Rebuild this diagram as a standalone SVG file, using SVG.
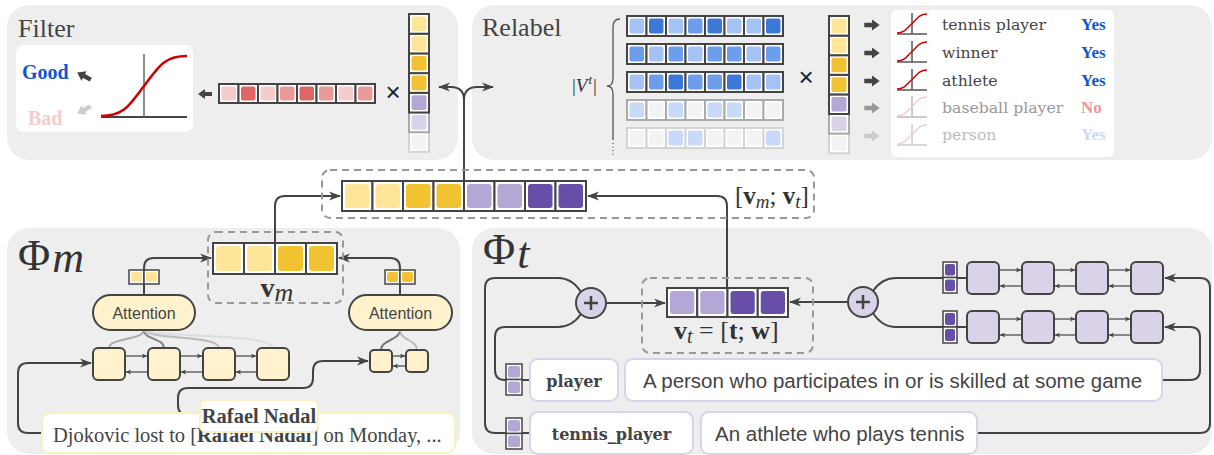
<svg xmlns="http://www.w3.org/2000/svg" width="1214" height="455" viewBox="0 0 1214 455">
<defs>
<style>
.panel{fill:#eeeeee}
.c{fill:#fff;stroke:#444;stroke-width:2}
.cg{fill:#fff;stroke:#aaa;stroke-width:2}
.cl{fill:#fff;stroke:#d4d4d4;stroke-width:2}
.cs{fill:#fff;stroke:#444;stroke-width:1.5}
.y1{fill:#ffe599}.y2{fill:#f1c232}.l1{fill:#b4a7d6}.l2{fill:#d9d2e9}.p{fill:#674ea7}.e{fill:#f3f3f3}
.r1{fill:#f4cccc}.r2{fill:#ea9999}.r3{fill:#e06666}
.b1{fill:#c9daf8}.b2{fill:#a4c2f4}.b3{fill:#6d9eeb}.b4{fill:#3c78d8}
.ln{fill:none;stroke:#444;stroke-width:2}
.sl{fill:none;stroke:#444;stroke-width:1.2}
.dash{fill:none;stroke:#999;stroke-width:2;stroke-dasharray:7 5}
.box{fill:#fff2cc;stroke:#444;stroke-width:2}
.pbox{fill:#d9d2e9;stroke:#444;stroke-width:2}
.title{font-family:"Liberation Serif",serif;font-size:26px;fill:#444}
.math{font-family:"Liberation Serif",serif;fill:#333}
.slab{font-family:"DejaVu Serif",serif}
.sans{font-family:"Liberation Sans",Arial,sans-serif;fill:#444}
.lbl{fill:#fff;stroke:#d9d2e9;stroke-width:2}
</style>
<marker id="ah" viewBox="0 0 12 10" refX="11" refY="5" markerWidth="12" markerHeight="10" markerUnits="userSpaceOnUse" orient="auto"><path d="M0,0.5 L12,5 L0,9.5 L3.5,5 Z" fill="#444"/></marker>
<marker id="sa" viewBox="0 0 6 6" refX="6" refY="3" markerWidth="6" markerHeight="5" markerUnits="userSpaceOnUse" orient="auto"><path d="M0,0 L6,3 L0,6 L1.5,3 Z" fill="#444"/></marker>
<path id="ta" d="M-7,-2 h7 v-3 l7,5 l-7,5 v-3 h-7 z"/>
</defs>

<g id="panels">
<rect class="panel" x="7" y="5" width="451" height="155" rx="22"/>
<rect class="panel" x="472" y="5" width="740" height="155" rx="22"/>
<rect class="panel" x="7" y="228" width="453" height="226" rx="22"/>
<rect class="panel" x="472" y="228" width="740" height="226" rx="22"/>
</g>

<g id="connectors">
<path class="ln" d="M464,181 V100 Q464,87 451,87 H439" marker-end="url(#ah)"/>
<path class="ln" d="M464,100 Q464,87 477,87 H493" marker-end="url(#ah)"/>
<path class="ln" d="M275,243 V206 Q275,196 285,196 H340" marker-end="url(#ah)"/>
<path class="ln" d="M727,288 V206 Q727,196 717,196 H588" marker-end="url(#ah)"/>
<path class="ln" d="M144,295 V268 Q144,258 154,258 H211" marker-end="url(#ah)"/>
<path class="ln" d="M400,295 V268 Q400,258 390,258 H339" marker-end="url(#ah)"/>
<path fill="none" stroke="#aaa" stroke-width="2" d="M144,330 C144,340 109,338 109,348"/>
<path fill="none" stroke="#888" stroke-width="2" d="M144,330 C144,340 164,338 164,348"/>
<path fill="none" stroke="#bbb" stroke-width="2" d="M144,330 C150,340 219,335 219,348"/>
<path fill="none" stroke="#ddd" stroke-width="2" d="M144,330 C156,338 273,333 273,348"/>
<path fill="none" stroke="#777" stroke-width="2" d="M400,330 C400,340 381,340 381,350"/>
<path fill="none" stroke="#bbb" stroke-width="2" d="M400,330 C400,340 417,340 417,350"/>
<path class="ln" d="M42,433 H28 Q18,433 18,423 V373 Q18,363 28,363 H91" marker-end="url(#ah)"/>
<path class="ln" d="M200,415 H188 Q178,415 178,405 V398 Q178,388 188,388 H303 Q313,388 313,378 V371 Q313,361 323,361 H368" marker-end="url(#ah)"/>
<path class="sl" d="M125,356 H147" marker-end="url(#sa)"/>
<path class="sl" d="M180,356 H202" marker-end="url(#sa)"/>
<path class="sl" d="M235,356 H256" marker-end="url(#sa)"/>
<path class="sl" d="M148,372 H126" marker-end="url(#sa)"/>
<path class="sl" d="M203,372 H181" marker-end="url(#sa)"/>
<path class="sl" d="M257,372 H236" marker-end="url(#sa)"/>
<path class="sl" d="M392,356 H405" marker-end="url(#sa)"/>
<path class="sl" d="M406,366 H393" marker-end="url(#sa)"/>
<path class="ln" d="M606,303 H665" marker-end="url(#ah)"/>
<path class="ln" d="M848,302 H790" marker-end="url(#ah)"/>
<path class="ln" d="M581,292 Q572,278 558,278 H495 Q485,278 485,288 V423 Q485,433 495,433 H530"/>
<path class="ln" d="M581,314 Q572,327 558,327 H505 Q495,327 495,337 V370 Q495,380 505,380 H530"/>
<path class="ln" d="M873,291 Q882,278 896,278 H967"/>
<path class="ln" d="M873,313 Q882,327 896,327 H967"/>
<path class="ln" d="M1162,380 H1190 Q1200,380 1200,370 V337 Q1200,327 1190,327 H1165" marker-end="url(#ah)"/>
<path class="ln" d="M977,433 H1200 Q1210,433 1210,423 V288 Q1210,278 1200,278 H1165" marker-end="url(#ah)"/>
<path class="sl" d="M999,270 H1021" marker-end="url(#sa)"/>
<path class="sl" d="M1054,270 H1075" marker-end="url(#sa)"/>
<path class="sl" d="M1108,270 H1130" marker-end="url(#sa)"/>
<path class="sl" d="M1022,286 H1000" marker-end="url(#sa)"/>
<path class="sl" d="M1076,286 H1055" marker-end="url(#sa)"/>
<path class="sl" d="M1131,286 H1109" marker-end="url(#sa)"/>
<path class="sl" d="M999,319 H1021" marker-end="url(#sa)"/>
<path class="sl" d="M1054,319 H1075" marker-end="url(#sa)"/>
<path class="sl" d="M1108,319 H1130" marker-end="url(#sa)"/>
<path class="sl" d="M1022,335 H1000" marker-end="url(#sa)"/>
<path class="sl" d="M1076,335 H1055" marker-end="url(#sa)"/>
<path class="sl" d="M1131,335 H1109" marker-end="url(#sa)"/>
</g>

<g id="filter">
<text class="title" x="18" y="37">Filter</text>
<rect x="16" y="45" width="177" height="87" rx="8" fill="#fff"/>
<text x="22" y="79" font-family="Liberation Serif,serif" font-weight="bold" font-size="20" fill="#1155cc">Good</text>
<text x="28" y="125" font-family="Liberation Serif,serif" font-weight="bold" font-size="20" fill="#f4cccc">Bad</text>
<use href="#ta" transform="translate(84,76) rotate(-152) scale(1.1)" fill="#444"/>
<use href="#ta" transform="translate(84,110) rotate(152) scale(1.1)" fill="#ccc"/>
<path d="M101,117 H187" stroke="#444" stroke-width="2"/>
<path d="M144,54 V117" stroke="#666" stroke-width="1.5"/>
<path d="M101,116 C125,116 130,104 144,86 C158,68 163,56 187,56" fill="none" stroke="#cc0000" stroke-width="2.5"/>
<use href="#ta" transform="translate(205,94) rotate(180)" fill="#444"/>
<g id="filter-vec">
<rect class="c" x="219" y="84" width="19.5" height="19"/><rect class="r1" x="221.5" y="86.5" width="14.5" height="14" rx="2"/>
<rect class="c" x="238.5" y="84" width="19.5" height="19"/><rect class="r3" x="241" y="86.5" width="14.5" height="14" rx="2"/>
<rect class="c" x="258" y="84" width="19.5" height="19"/><rect class="r1" x="260.5" y="86.5" width="14.5" height="14" rx="2"/>
<rect class="c" x="277.5" y="84" width="19.5" height="19"/><rect class="r2" x="280" y="86.5" width="14.5" height="14" rx="2"/>
<rect class="c" x="297" y="84" width="19.5" height="19"/><rect class="r3" x="299.5" y="86.5" width="14.5" height="14" rx="2"/>
<rect class="c" x="316.5" y="84" width="19.5" height="19"/><rect class="r2" x="319" y="86.5" width="14.5" height="14" rx="2"/>
<rect class="c" x="336" y="84" width="19.5" height="19"/><rect class="r1" x="338.5" y="86.5" width="14.5" height="14" rx="2"/>
<rect class="c" x="355.5" y="84" width="19.5" height="19"/><rect class="r2" x="358" y="86.5" width="14.5" height="14" rx="2"/>
</g>
<text x="393" y="101" font-family="Liberation Sans,sans-serif" font-size="26" fill="#222" text-anchor="middle">×</text>
<g id="filter-mention">
<rect class="cl" x="409" y="132.2" width="20" height="19.7"/><rect class="e" x="411.5" y="134.7" width="15" height="14.7" rx="2"/>
<rect class="cg" x="409" y="112.5" width="20" height="19.7"/><rect class="l2" x="411.5" y="115" width="15" height="14.7" rx="2"/>
<rect class="c" x="409" y="92.8" width="20" height="19.7"/><rect class="l1" x="411.5" y="95.3" width="15" height="14.7" rx="2"/>
<rect class="c" x="409" y="73.1" width="20" height="19.7"/><rect class="y2" x="411.5" y="75.6" width="15" height="14.7" rx="2"/>
<rect class="c" x="409" y="53.4" width="20" height="19.7"/><rect class="y2" x="411.5" y="55.9" width="15" height="14.7" rx="2"/>
<rect class="c" x="409" y="33.7" width="20" height="19.7"/><rect class="y1" x="411.5" y="36.2" width="15" height="14.7" rx="2"/>
<rect class="c" x="409" y="14" width="20" height="19.7"/><rect class="y1" x="411.5" y="16.5" width="15" height="14.7" rx="2"/>
</g>
</g>

<g id="relabel">
<text class="title" x="482" y="36">Relabel</text>
<text class="math" x="572" y="92" font-size="19" fill="#555">|<tspan font-style="italic">V</tspan><tspan font-style="italic" font-size="13" dx="1" dy="-8">t</tspan><tspan dx="1" dy="8">|</tspan></text>
<path d="M620,19 Q613,19 613,27 V78 Q613,86 607,86 Q613,86 613,94 V140" fill="none" stroke="#555" stroke-width="1.3"/>
<path d="M613,143 V156" fill="none" stroke="#555" stroke-width="1.3" stroke-dasharray="1 2.5"/>
<g id="type-matrix">
<rect class="c" x="627" y="16" width="19.5" height="20"/><rect class="b2" x="629.5" y="18.5" width="14.5" height="15" rx="2"/>
<rect class="c" x="646.5" y="16" width="19.5" height="20"/><rect class="b4" x="649" y="18.5" width="14.5" height="15" rx="2"/>
<rect class="c" x="666" y="16" width="19.5" height="20"/><rect class="b2" x="668.5" y="18.5" width="14.5" height="15" rx="2"/>
<rect class="c" x="685.5" y="16" width="19.5" height="20"/><rect class="b3" x="688" y="18.5" width="14.5" height="15" rx="2"/>
<rect class="c" x="705" y="16" width="19.5" height="20"/><rect class="b4" x="707.5" y="18.5" width="14.5" height="15" rx="2"/>
<rect class="c" x="724.5" y="16" width="19.5" height="20"/><rect class="b2" x="727" y="18.5" width="14.5" height="15" rx="2"/>
<rect class="c" x="744" y="16" width="19.5" height="20"/><rect class="b2" x="746.5" y="18.5" width="14.5" height="15" rx="2"/>
<rect class="c" x="763.5" y="16" width="19.5" height="20"/><rect class="b4" x="766" y="18.5" width="14.5" height="15" rx="2"/>

<rect class="c" x="627" y="44" width="19.5" height="20"/><rect class="b3" x="629.5" y="46.5" width="14.5" height="15" rx="2"/>
<rect class="c" x="646.5" y="44" width="19.5" height="20"/><rect class="b2" x="649" y="46.5" width="14.5" height="15" rx="2"/>
<rect class="c" x="666" y="44" width="19.5" height="20"/><rect class="b3" x="668.5" y="46.5" width="14.5" height="15" rx="2"/>
<rect class="c" x="685.5" y="44" width="19.5" height="20"/><rect class="b2" x="688" y="46.5" width="14.5" height="15" rx="2"/>
<rect class="c" x="705" y="44" width="19.5" height="20"/><rect class="b3" x="707.5" y="46.5" width="14.5" height="15" rx="2"/>
<rect class="c" x="724.5" y="44" width="19.5" height="20"/><rect class="b3" x="727" y="46.5" width="14.5" height="15" rx="2"/>
<rect class="c" x="744" y="44" width="19.5" height="20"/><rect class="b2" x="746.5" y="46.5" width="14.5" height="15" rx="2"/>
<rect class="c" x="763.5" y="44" width="19.5" height="20"/><rect class="b3" x="766" y="46.5" width="14.5" height="15" rx="2"/>

<rect class="c" x="627" y="72" width="19.5" height="20"/><rect class="b2" x="629.5" y="74.5" width="14.5" height="15" rx="2"/>
<rect class="c" x="646.5" y="72" width="19.5" height="20"/><rect class="b3" x="649" y="74.5" width="14.5" height="15" rx="2"/>
<rect class="c" x="666" y="72" width="19.5" height="20"/><rect class="b4" x="668.5" y="74.5" width="14.5" height="15" rx="2"/>
<rect class="c" x="685.5" y="72" width="19.5" height="20"/><rect class="b3" x="688" y="74.5" width="14.5" height="15" rx="2"/>
<rect class="c" x="705" y="72" width="19.5" height="20"/><rect class="b3" x="707.5" y="74.5" width="14.5" height="15" rx="2"/>
<rect class="c" x="724.5" y="72" width="19.5" height="20"/><rect class="b4" x="727" y="74.5" width="14.5" height="15" rx="2"/>
<rect class="c" x="744" y="72" width="19.5" height="20"/><rect class="b2" x="746.5" y="74.5" width="14.5" height="15" rx="2"/>
<rect class="c" x="763.5" y="72" width="19.5" height="20"/><rect class="b2" x="766" y="74.5" width="14.5" height="15" rx="2"/>

<rect class="cg" x="627" y="100" width="19.5" height="20"/><rect class="b1" x="629.5" y="102.5" width="14.5" height="15" rx="2"/>
<rect class="cg" x="646.5" y="100" width="19.5" height="20"/><rect class="e" x="649" y="102.5" width="14.5" height="15" rx="2"/>
<rect class="cg" x="666" y="100" width="19.5" height="20"/><rect class="b1" x="668.5" y="102.5" width="14.5" height="15" rx="2"/>
<rect class="cg" x="685.5" y="100" width="19.5" height="20"/><rect class="e" x="688" y="102.5" width="14.5" height="15" rx="2"/>
<rect class="cg" x="705" y="100" width="19.5" height="20"/><rect class="b1" x="707.5" y="102.5" width="14.5" height="15" rx="2"/>
<rect class="cg" x="724.5" y="100" width="19.5" height="20"/><rect class="b1" x="727" y="102.5" width="14.5" height="15" rx="2"/>
<rect class="cg" x="744" y="100" width="19.5" height="20"/><rect class="e" x="746.5" y="102.5" width="14.5" height="15" rx="2"/>
<rect class="cg" x="763.5" y="100" width="19.5" height="20"/><rect class="e" x="766" y="102.5" width="14.5" height="15" rx="2"/>

<rect class="cl" x="627" y="128" width="19.5" height="20"/><rect class="e" x="629.5" y="130.5" width="14.5" height="15" rx="2"/>
<rect class="cl" x="646.5" y="128" width="19.5" height="20"/><rect class="e" x="649" y="130.5" width="14.5" height="15" rx="2"/>
<rect class="cl" x="666" y="128" width="19.5" height="20"/><rect class="b1" x="668.5" y="130.5" width="14.5" height="15" rx="2"/>
<rect class="cl" x="685.5" y="128" width="19.5" height="20"/><rect class="b1" x="688" y="130.5" width="14.5" height="15" rx="2"/>
<rect class="cl" x="705" y="128" width="19.5" height="20"/><rect class="e" x="707.5" y="130.5" width="14.5" height="15" rx="2"/>
<rect class="cl" x="724.5" y="128" width="19.5" height="20"/><rect class="e" x="727" y="130.5" width="14.5" height="15" rx="2"/>
<rect class="cl" x="744" y="128" width="19.5" height="20"/><rect class="e" x="746.5" y="130.5" width="14.5" height="15" rx="2"/>
<rect class="cl" x="763.5" y="128" width="19.5" height="20"/><rect class="b1" x="766" y="130.5" width="14.5" height="15" rx="2"/>
</g>
<text x="806" y="86" font-family="Liberation Sans,sans-serif" font-size="26" fill="#222" text-anchor="middle">×</text>
<g id="relabel-mention">
<rect class="cl" x="829" y="133.6" width="20" height="19.6"/><rect class="e" x="831.5" y="136.1" width="15" height="14.6" rx="2"/>
<rect class="cg" x="829" y="114" width="20" height="19.6"/><rect class="l2" x="831.5" y="116.5" width="15" height="14.6" rx="2"/>
<rect class="c" x="829" y="94.4" width="20" height="19.6"/><rect class="l1" x="831.5" y="96.9" width="15" height="14.6" rx="2"/>
<rect class="c" x="829" y="74.8" width="20" height="19.6"/><rect class="y2" x="831.5" y="77.3" width="15" height="14.6" rx="2"/>
<rect class="c" x="829" y="55.2" width="20" height="19.6"/><rect class="y2" x="831.5" y="57.7" width="15" height="14.6" rx="2"/>
<rect class="c" x="829" y="35.6" width="20" height="19.6"/><rect class="y1" x="831.5" y="38.1" width="15" height="14.6" rx="2"/>
<rect class="c" x="829" y="16" width="20" height="19.6"/><rect class="y1" x="831.5" y="18.5" width="15" height="14.6" rx="2"/>
</g>
<use href="#ta" transform="translate(872,25) scale(1.1)" fill="#444"/>
<use href="#ta" transform="translate(872,53) scale(1.1)" fill="#444"/>
<use href="#ta" transform="translate(872,81) scale(1.1)" fill="#444"/>
<use href="#ta" transform="translate(872,108) scale(1.1)" fill="#999"/>
<use href="#ta" transform="translate(872,136) scale(1.1)" fill="#ccc"/>
<rect x="891" y="10" width="223" height="147" rx="6" fill="#fff"/>
<g fill="none" stroke-width="1.5">
<path d="M897,34 H927 M912,13 V34" stroke="#555"/>
<path d="M897,33 C905,33 907,28 912,23.5 C917,19 919,14 927,14" stroke="#cc0000"/>
<path d="M897,62 H927 M912,41 V62" stroke="#555"/>
<path d="M897,61 C905,61 907,56 912,51.5 C917,47 919,42 927,42" stroke="#cc0000"/>
<path d="M897,90 H927 M912,69 V90" stroke="#555"/>
<path d="M897,89 C905,89 907,84 912,79.5 C917,75 919,70 927,70" stroke="#cc0000"/>
<path d="M897,117 H927 M912,96 V117" stroke="#bbb"/>
<path d="M897,116 C905,116 907,111 912,106.5 C917,102 919,97 927,97" stroke="#f4cccc"/>
<path d="M897,145 H927 M912,124 V145" stroke="#ccc"/>
<path d="M897,144 C905,144 907,139 912,134.5 C917,130 919,125 927,125" stroke="#f4cccc"/>
</g>
<g class="slab" font-size="15.7">
<text x="942" y="30" fill="#444">tennis player</text>
<text x="942" y="58" fill="#444">winner</text>
<text x="942" y="86" fill="#444">athlete</text>
<text x="942" y="113" fill="#999">baseball player</text>
<text x="942" y="140" fill="#bbb">person</text>
</g>
<g font-family="Liberation Serif,serif" font-weight="bold" font-size="17">
<text x="1081" y="30" fill="#1155cc">Yes</text>
<text x="1081" y="58" fill="#1155cc">Yes</text>
<text x="1081" y="86" fill="#1155cc">Yes</text>
<text x="1081" y="113" fill="#ea9999">No</text>
<text x="1081" y="140" fill="#c9daf8">Yes</text>
</g>
</g>

<g id="concat">
<rect class="dash" x="322" y="170" width="492" height="48" rx="8"/>
<rect class="c" x="342" y="181" width="30.5" height="30"/><rect class="y1" x="345" y="184" width="24.5" height="24" rx="3"/>
<rect class="c" x="372.5" y="181" width="30.5" height="30"/><rect class="y1" x="375.5" y="184" width="24.5" height="24" rx="3"/>
<rect class="c" x="403" y="181" width="30.5" height="30"/><rect class="y2" x="406" y="184" width="24.5" height="24" rx="3"/>
<rect class="c" x="433.5" y="181" width="30.5" height="30"/><rect class="y2" x="436.5" y="184" width="24.5" height="24" rx="3"/>
<rect class="c" x="464" y="181" width="30.5" height="30"/><rect class="l1" x="467" y="184" width="24.5" height="24" rx="3"/>
<rect class="c" x="494.5" y="181" width="30.5" height="30"/><rect class="l1" x="497.5" y="184" width="24.5" height="24" rx="3"/>
<rect class="c" x="525" y="181" width="30.5" height="30"/><rect class="p" x="528" y="184" width="24.5" height="24" rx="3"/>
<rect class="c" x="555.5" y="181" width="30.5" height="30"/><rect class="p" x="558.5" y="184" width="24.5" height="24" rx="3"/>
<text class="math" x="735" y="204" font-size="25">[<tspan font-weight="bold">v</tspan><tspan font-style="italic" font-size="19" dy="4">m</tspan><tspan dy="-4">; </tspan><tspan font-weight="bold">v</tspan><tspan font-style="italic" font-size="19" dy="4">t</tspan><tspan dy="-4">]</tspan></text>
</g>

<g id="phi-m">
<text class="math" x="18" y="270" font-size="44" fill="#333">Φ<tspan font-style="italic" dx="2" dy="2">m</tspan></text>
<rect class="dash" x="208" y="232" width="135" height="71" rx="8"/>
<rect class="c" x="213" y="243" width="31" height="31"/><rect class="y1" x="216" y="246" width="25" height="25" rx="3"/>
<rect class="c" x="244" y="243" width="31" height="31"/><rect class="y1" x="247" y="246" width="25" height="25" rx="3"/>
<rect class="c" x="275" y="243" width="31" height="31"/><rect class="y2" x="278" y="246" width="25" height="25" rx="3"/>
<rect class="c" x="306" y="243" width="31" height="31"/><rect class="y2" x="309" y="246" width="25" height="25" rx="3"/>
<text class="math" x="277" y="297" font-size="28" text-anchor="middle"><tspan font-weight="bold">v</tspan><tspan font-style="italic" font-size="26" dy="4">m</tspan></text>
<g id="attn-left">
<rect class="cs" x="129" y="270" width="15" height="14"/><rect class="y1" x="131" y="272" width="11" height="10" rx="2"/>
<rect class="cs" x="144" y="270" width="15" height="14"/><rect class="y1" x="146" y="272" width="11" height="10" rx="2"/>
<rect class="box" x="93" y="295" width="102" height="35" rx="17.5"/>
<text class="sans" x="144" y="319" font-size="16" text-anchor="middle">Attention</text>
</g>
<g id="attn-right">
<rect class="cs" x="385" y="270" width="15" height="14"/><rect class="y2" x="387" y="272" width="11" height="10" rx="2"/>
<rect class="cs" x="400" y="270" width="15" height="14"/><rect class="y2" x="402" y="272" width="11" height="10" rx="2"/>
<rect class="box" x="349" y="295" width="103" height="35" rx="17.5"/>
<text class="sans" x="400.5" y="319" font-size="16" text-anchor="middle">Attention</text>
</g>
<g id="rnn-context">
<rect class="box" x="93" y="348" width="32" height="32" rx="5"/>
<rect class="box" x="148" y="348" width="32" height="32" rx="5"/>
<rect class="box" x="203" y="348" width="32" height="32" rx="5"/>
<rect class="box" x="257" y="348" width="32" height="32" rx="5"/>
</g>
<g id="rnn-mention">
<rect class="box" x="370" y="350" width="22" height="22" rx="4"/>
<rect class="box" x="406" y="350" width="22" height="22" rx="4"/>
</g>
<g id="sentence">
<rect x="42" y="413" width="413" height="40" rx="8" fill="#fff" stroke="#fdefc3" stroke-width="2"/>
<text x="53" y="442" font-family="Liberation Serif,serif" font-size="20.5" fill="#444">Djokovic lost to [<tspan font-weight="bold">Rafael Nadal</tspan>] on Monday, ...</text>
</g>
<g id="callout">
<rect x="201" y="401.5" width="118" height="32" rx="6" fill="#000" opacity="0.08"/>
<rect x="200" y="400" width="118" height="32" rx="6" fill="#fff" stroke="#fdefc3" stroke-width="2"/>
<text x="259" y="423" font-family="Liberation Serif,serif" font-weight="bold" font-size="20.5" fill="#444" text-anchor="middle">Rafael Nadal</text>
</g>
</g>

<g id="phi-t">
<text class="math" x="483" y="264" font-size="44" fill="#333">Φ<tspan font-style="italic" dx="2" dy="4">t</tspan></text>
<g id="plus-left">
<circle cx="591" cy="303" r="15" class="pbox"/>
<path d="M584,303 H598 M591,296 V310" stroke="#444" stroke-width="2.5"/>
</g>
<g id="plus-right">
<circle cx="863" cy="302" r="15" class="pbox"/>
<path d="M856,302 H870 M863,295 V309" stroke="#444" stroke-width="2.5"/>
</g>
<rect class="dash" x="642" y="278" width="171" height="75" rx="8"/>
<rect class="c" x="667" y="288" width="30.25" height="29"/><rect class="l1" x="670" y="291" width="24.25" height="23" rx="3"/>
<rect class="c" x="697.25" y="288" width="30.25" height="29"/><rect class="l1" x="700.25" y="291" width="24.25" height="23" rx="3"/>
<rect class="c" x="727.5" y="288" width="30.25" height="29"/><rect class="p" x="730.5" y="291" width="24.25" height="23" rx="3"/>
<rect class="c" x="757.75" y="288" width="30.25" height="29"/><rect class="p" x="760.75" y="291" width="24.25" height="23" rx="3"/>
<text class="math" x="674" y="339" font-size="26"><tspan font-weight="bold">v</tspan><tspan font-style="italic" font-size="20" dy="4">t</tspan><tspan dy="-4"> = [</tspan><tspan font-weight="bold">t</tspan>; <tspan font-weight="bold">w</tspan>]</text>
<g id="player">
<rect class="cs" x="506" y="364" width="16" height="15.5"/><rect class="l1" x="508" y="366" width="12" height="11.5" rx="2"/>
<rect class="cs" x="506" y="379.5" width="16" height="15.5"/><rect class="l1" x="508" y="381.5" width="12" height="11.5" rx="2"/>
<rect class="lbl" x="530" y="359" width="88" height="42" rx="8"/>
<text class="slab" x="574" y="387" font-size="16" font-weight="bold" fill="#444" text-anchor="middle">player</text>
<rect class="lbl" x="625" y="359" width="537" height="42" rx="8"/>
<text class="sans" x="643" y="388" font-size="20.5">A person who participates in or is skilled at some game</text>
</g>
<g id="tennis-player">
<rect class="cs" x="506" y="418" width="16" height="15.5"/><rect class="l1" x="508" y="420" width="12" height="11.5" rx="2"/>
<rect class="cs" x="506" y="433.5" width="16" height="15.5"/><rect class="l1" x="508" y="435.5" width="12" height="11.5" rx="2"/>
<rect class="lbl" x="530" y="412" width="163" height="42" rx="8"/>
<text class="slab" x="611.5" y="440" font-size="16" font-weight="bold" fill="#444" text-anchor="middle">tennis_player</text>
<rect class="lbl" x="701" y="412" width="276" height="42" rx="8"/>
<text class="sans" x="715" y="441" font-size="20.5">An athlete who plays tennis</text>
</g>
<g id="rnn-def1">
<rect class="cs" x="943" y="262" width="14" height="15.5"/><rect class="p" x="945" y="264" width="10" height="11.5" rx="2"/>
<rect class="cs" x="943" y="277.5" width="14" height="15.5"/><rect class="p" x="945" y="279.5" width="10" height="11.5" rx="2"/>
<rect class="pbox" x="967" y="262" width="32" height="32" rx="5"/>
<rect class="pbox" x="1022" y="262" width="32" height="32" rx="5"/>
<rect class="pbox" x="1076" y="262" width="32" height="32" rx="5"/>
<rect class="pbox" x="1131" y="262" width="32" height="32" rx="5"/>
</g>
<g id="rnn-def2">
<rect class="cs" x="943" y="311" width="14" height="16"/><rect class="p" x="945" y="313" width="10" height="12" rx="2"/>
<rect class="cs" x="943" y="327" width="14" height="16"/><rect class="p" x="945" y="329" width="10" height="12" rx="2"/>
<rect class="pbox" x="967" y="311" width="32" height="32" rx="5"/>
<rect class="pbox" x="1022" y="311" width="32" height="32" rx="5"/>
<rect class="pbox" x="1076" y="311" width="32" height="32" rx="5"/>
<rect class="pbox" x="1131" y="311" width="32" height="32" rx="5"/>
</g>
</g>
</svg>
